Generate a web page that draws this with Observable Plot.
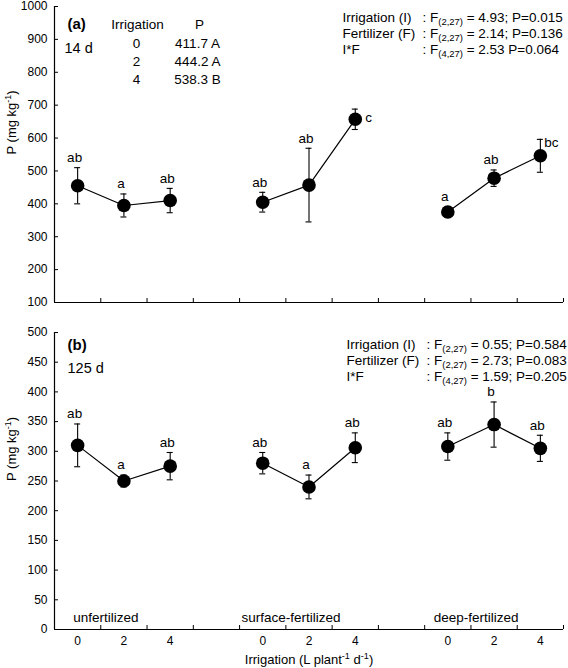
<!DOCTYPE html>
<html>
<head>
<meta charset="utf-8">
<script src="https://cdn.jsdelivr.net/npm/d3@7"></script>
<script src="https://cdn.jsdelivr.net/npm/@observablehq/plot@0.6"></script>
<style>
  body { margin: 0; background: #fff; }
  #chart { width: 568px; height: 668px; overflow: hidden; }
  #chart svg { display: block; overflow: visible; }
</style>
</head>
<body>
<div id="chart"></div>
<script>
// ---------- data ----------
const fertilization = ["unfertilized", "surface-fertilized", "deep-fertilized"];
const irrigation = [0, 2, 4];

// Panel (a): 14 d
const p14 = [455, 395, 410, 405, 457, 657, 375, 478, 546];
const err14 = [55, 35, 37, 30, 112, 31, 15, 25, 50];
const letters14 = ["ab", "a", "ab", "ab", "ab", "c", "a", "ab", "bc"];

// Panel (b): 125 d
const p125 = [310, 250, 275, 280, 240, 306, 308, 345, 305];
const err125 = [36, 10, 23, 18, 20, 25, 23, 38, 22];
const letters125 = ["ab", "a", "ab", "ab", "a", "ab", "ab", "b", "ab"];

const yTicks14 = [100, 200, 300, 400, 500, 600, 700, 800, 900, 1000];
const yTicks125 = [0, 50, 100, 150, 200, 250, 300, 350, 400, 450, 500];

// Irrigation main-effect table, panel (a)
const meanIrrigation14 = ["411.7 A", "444.2 A", "538.3 B"];

// ANOVA summaries
const anovaTerms = ["Irrigation (I)", "Fertilizer (F)", "I*F"];
const anova14 = [": F_{(2,27)} = 4.93; P=0.015", ": F_{(2,27)} = 2.14; P=0.136", ": F_{(4,27)} = 2.53 P=0.064"];
const anova125 = [": F_{(2,27)} = 0.55; P=0.584", ": F_{(2,27)} = 2.73; P=0.083", ": F_{(4,27)} = 1.59; P=0.205"];

const yLabel = "P (mg kg^{-1})";
const xLabel = "Irrigation (L plant^{-1} d^{-1})";

// ---------- helpers ----------
const FONT = "'Liberation Sans', Arial, Helvetica, sans-serif";
const nSlots = fertilization.length * (irrigation.length + 1) - 1; // 11

function rowsOf(p, err, letters) {
  return p.map((v, k) => {
    const f = Math.floor(k / irrigation.length), i = k % irrigation.length;
    return {k, fert: fertilization[f], irr: irrigation[i], slot: f * (irrigation.length + 1) + i + 0.5,
            p: v, se: err[k], letter: letters[k]};
  });
}

function richify(root) {
  const NS = "http://www.w3.org/2000/svg";
  root.querySelectorAll("text, tspan").forEach(n => {
    if (n.childNodes.length !== 1 || n.firstChild.nodeType !== 3) return;
    const s = n.textContent;
    if (!/[_^]\{/.test(s)) return;
    n.textContent = "";
    const re = /([_^])\{([^}]*)\}/g;
    let last = 0, m, offset = 0;
    const add = (txt, dy, small) => {
      const t = document.createElementNS(NS, "tspan");
      if (dy) t.setAttribute("dy", dy);
      if (small) t.style.fontSize = "70%";
      t.textContent = txt;
      n.appendChild(t);
    };
    while ((m = re.exec(s))) {
      if (m.index > last) { add(s.slice(last, m.index), -offset, false); offset = 0; }
      const d = m[1] === "_" ? 3 : -5;
      add(m[2], d - offset, true);
      offset = d;
      last = re.lastIndex;
    }
    if (last < s.length) add(s.slice(last), -offset, false);
  });
}

// text anchored to the frame's top-left corner, vertically centred on dy
const note = (txt, o) => Plot.text([txt], {frameAnchor: "top-left", textAnchor: "start", lineAnchor: "middle", fontSize: 13.5, ...o});

function panel(cfg) {
  const rows = rowsOf(cfg.p, cfg.err, cfg.letters);
  const y0 = cfg.yTicks[0], y1 = cfg.yTicks[cfg.yTicks.length - 1];
  const normal = rows.filter(d => !cfg.rightOf.has(d.k) && !cfg.rightTop.has(d.k));
  const capStyle = {stroke: "black", strokeWidth: 1.1, insetLeft: -3, insetRight: -3};
  const marks = [
    Plot.ruleX([0], {stroke: "black", strokeWidth: 1.2}),
    Plot.ruleY([y0], {stroke: "black", strokeWidth: 1.2}),
    Plot.axisY(cfg.yTicks, {tickSize: -4, tickPadding: 11, fontSize: 12, tickFormat: d => String(d), label: null}),
    Plot.axisX(d3.range(0, nSlots + 1), {tickSize: -4, tickFormat: () => "", label: null}),
    // error bars
    Plot.ruleX(rows, {x: "slot", y1: d => d.p - d.se, y2: d => d.p + d.se, stroke: "black", strokeWidth: 1.1}),
    Plot.ruleY(rows, {y: d => d.p + d.se, x1: "slot", x2: "slot", ...capStyle}),
    Plot.ruleY(rows, {y: d => d.p - d.se, x1: "slot", x2: "slot", ...capStyle}),
    // lines and dots
    Plot.line(rows, {x: "slot", y: "p", z: "fert", stroke: "black", strokeWidth: 1.2}),
    Plot.dot(rows, {x: "slot", y: "p", r: 6.8, fill: "black", stroke: null}),
    // significance letters
    Plot.text(normal, {x: "slot", y: d => d.p + d.se, text: "letter", dx: -3, dy: -10, fontSize: 13.5}),
    Plot.text(rows.filter(d => cfg.rightOf.has(d.k)), {x: "slot", y: "p", text: "letter", textAnchor: "start", dx: 10, dy: -2, fontSize: 13.5}),
    Plot.text(rows.filter(d => cfg.rightTop.has(d.k)), {x: "slot", y: d => d.p + d.se, text: "letter", textAnchor: "start", dx: 4, dy: 3, fontSize: 13.5}),
    // y label
    Plot.text([yLabel], {frameAnchor: "left", rotate: -90, dx: -43, fontSize: 13}),
    // panel label & time
    note(cfg.tag, {dx: 13, dy: cfg.tagDy, fontSize: 15, fontWeight: "bold"}),
    note(cfg.days, {dx: cfg.daysDx, dy: cfg.daysDy, fontSize: 14.5}),
    // ANOVA
    ...anovaTerms.map((t, i) => note(t, {dx: cfg.anovaDx, dy: cfg.anovaDy + i * 16})),
    ...cfg.anova.map((t, i) => note(t, {dx: cfg.anovaDx + 80, dy: cfg.anovaDy + i * 16})),
    ...(cfg.extra || (() => []))(rows)
  ];
  const svg = Plot.plot({
    width: 568,
    height: cfg.height,
    marginLeft: 54,
    marginRight: 5,
    marginTop: cfg.marginTop,
    marginBottom: cfg.marginBottom,
    style: {fontFamily: FONT, fontSize: "12px", color: "black", background: "white", overflow: "visible"},
    x: {domain: [0, nSlots], label: null},
    y: {domain: [y0, y1], label: null},
    marks
  });
  richify(svg);
  return svg;
}

const chart = document.getElementById("chart");

chart.appendChild(panel({
  p: p14, err: err14, letters: letters14, yTicks: yTicks14,
  height: 312, marginTop: 6, marginBottom: 10,
  rightOf: new Set([5]), rightTop: new Set([8]),
  tag: "(a)", tagDy: 18, days: "14 d", daysDx: 10, daysDy: 42,
  anova: anova14, anovaDx: 288, anovaDy: 11,
  extra: () => [
    note("Irrigation", {textAnchor: "middle", dx: 83, dy: 18}),
    note("P", {textAnchor: "middle", dx: 145, dy: 18}),
    ...irrigation.map((v, i) => note(String(v), {textAnchor: "middle", dx: 82, dy: 37 + i * 18})),
    ...meanIrrigation14.map((v, i) => note(v, {textAnchor: "middle", dx: 143, dy: 37 + i * 18}))
  ]
}));

chart.appendChild(panel({
  p: p125, err: err125, letters: letters125, yTicks: yTicks125,
  height: 356, marginTop: 20, marginBottom: 39,
  rightOf: new Set(), rightTop: new Set(),
  tag: "(b)", tagDy: 13, days: "125 d", daysDx: 13, daysDy: 36,
  anova: anova125, anovaDx: 292, anovaDy: 12,
  extra: rows => {
    const irrOf = new Map(rows.map(d => [d.slot, d.irr]));
    return [
      Plot.axisX(rows.map(d => d.slot), {tickSize: 0, tickPadding: 7, fontSize: 12, tickFormat: d => String(irrOf.get(d)), label: null}),
      Plot.text(rows.filter(d => d.irr === irrigation[1]), {x: "slot", frameAnchor: "bottom", lineAnchor: "middle", text: "fert", dx: -18, dy: -12, fontSize: 13.5}),
      Plot.text([xLabel], {frameAnchor: "bottom", lineAnchor: "middle", dy: 30, fontSize: 13})
    ];
  }
}));
</script>
</body>
</html>
